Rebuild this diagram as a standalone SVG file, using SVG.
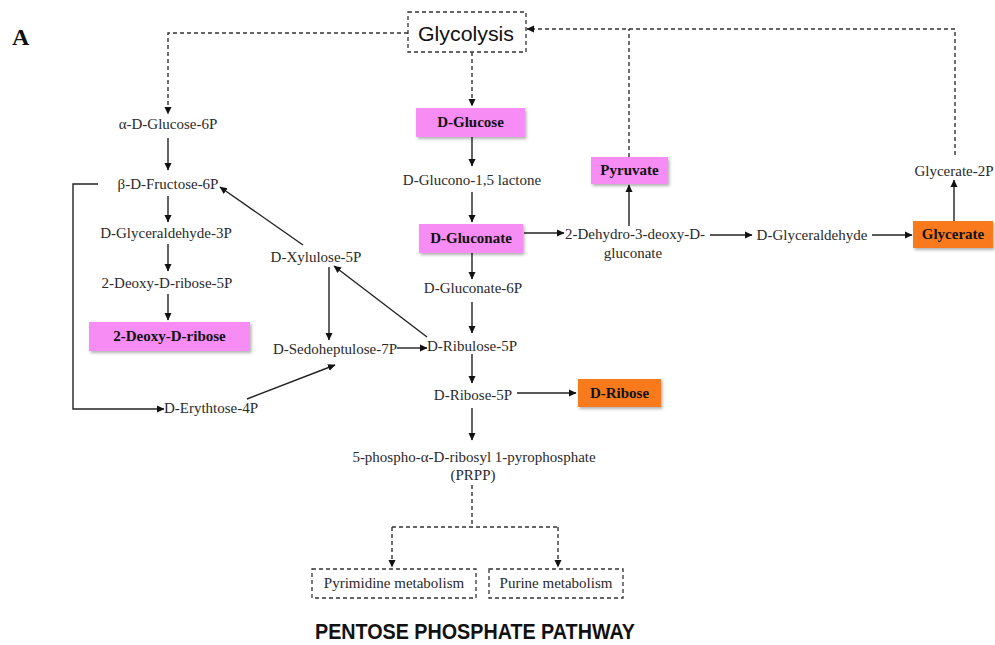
<svg xmlns="http://www.w3.org/2000/svg" width="995" height="645" viewBox="0 0 995 645">
<defs>
<style>
.t{font-family:"Liberation Serif","Times New Roman",serif;font-size:15px;fill:#2a2a2a;text-anchor:middle}
.b{font-family:"Liberation Serif","Times New Roman",serif;font-size:15px;font-weight:bold;fill:#111;text-anchor:middle}
.ln{fill:none;stroke:#222;stroke-width:1.4}
.ds{fill:none;stroke:#333;stroke-width:1.4;stroke-dasharray:4 3}
.pink{fill:#f78cf4}
.orng{fill:#f97a1f}
.dbox{fill:#fff;stroke:#333;stroke-width:1.3;stroke-dasharray:4 3}
</style>
<marker id="ah" markerWidth="8" markerHeight="8" refX="7" refY="4" orient="auto" markerUnits="userSpaceOnUse">
<path d="M0,0.5 L7.5,4 L0,7.5 Z" fill="#111"/>
</marker>
<filter id="sh" x="-10%" y="-20%" width="125%" height="150%">
<feDropShadow dx="1.5" dy="2" stdDeviation="1.5" flood-color="#000" flood-opacity="0.3"/>
</filter>
</defs>
<rect width="995" height="645" fill="#fff"/>
<text x="12" y="45" style="font-family:'Liberation Serif',serif;font-size:24px;font-weight:bold;fill:#111">A</text>

<g id="connectors">
<path class="ds" d="M408,33 H168 V114" marker-end="url(#ah)"/>
<path class="ds" d="M472,52 V106" marker-end="url(#ah)"/>
<path class="ds" d="M955,155 V29 H527" marker-end="url(#ah)"/>
<path class="ds" d="M629,157 V29"/>
<path class="ln" d="M472,137 V166" marker-end="url(#ah)"/>
<path class="ln" d="M472,192 V222" marker-end="url(#ah)"/>
<path class="ln" d="M524,233 H564" marker-end="url(#ah)"/>
<path class="ln" d="M629,226 V185" marker-end="url(#ah)"/>
<path class="ln" d="M710,235 H752" marker-end="url(#ah)"/>
<path class="ln" d="M872,235 H912" marker-end="url(#ah)"/>
<path class="ln" d="M954,221 V180" marker-end="url(#ah)"/>
<path class="ln" d="M168,138 V170" marker-end="url(#ah)"/>
<path class="ln" d="M168,196 V222" marker-end="url(#ah)"/>
<path class="ln" d="M168,244 V271" marker-end="url(#ah)"/>
<path class="ln" d="M168,294 V320" marker-end="url(#ah)"/>
<path class="ln" d="M98,184 H73 V409 H164" marker-end="url(#ah)"/>
<path class="ln" d="M303,245 L220,187" marker-end="url(#ah)"/>
<path class="ln" d="M329,267 V340" marker-end="url(#ah)"/>
<path class="ln" d="M397,348 H427" marker-end="url(#ah)"/>
<path class="ln" d="M427,337 L334,266" marker-end="url(#ah)"/>
<path class="ln" d="M247,399 L335,365" marker-end="url(#ah)"/>
<path class="ln" d="M472,253 V279" marker-end="url(#ah)"/>
<path class="ln" d="M472,302 V333" marker-end="url(#ah)"/>
<path class="ln" d="M472,354 V383" marker-end="url(#ah)"/>
<path class="ln" d="M517,393 H576" marker-end="url(#ah)"/>
<path class="ln" d="M472,408 V440" marker-end="url(#ah)"/>
<path class="ds" d="M472,485 V527 M392,527 H558"/>
<path class="ds" d="M392,527 V567" marker-end="url(#ah)"/>
<path class="ds" d="M558,527 V567" marker-end="url(#ah)"/>
</g>

<g id="glycolysis">
<rect class="dbox" x="408" y="12" width="118" height="40"/>
<text x="466" y="41" style="font-family:'Liberation Sans',Arial,sans-serif;font-size:21px;fill:#111;text-anchor:middle" textLength="96" lengthAdjust="spacingAndGlyphs">Glycolysis</text>
</g>
<g id="d-glucose"><rect class="pink" filter="url(#sh)" x="416" y="108" width="109" height="29"/><text class="b" x="470.5" y="127">D-Glucose</text></g>
<g id="d-glucono-lactone"><text class="t" x="472" y="185">D-Glucono-1,5 lactone</text></g>
<g id="d-gluconate"><rect class="pink" filter="url(#sh)" x="419" y="224" width="104" height="29"/><text class="b" x="471" y="243">D-Gluconate</text></g>
<g id="pyruvate"><rect class="pink" filter="url(#sh)" x="591" y="157" width="77" height="27"/><text class="b" x="629.5" y="175">Pyruvate</text></g>
<g id="dehydro-deoxy-gluconate"><text class="t" x="635" y="239">2-Dehydro-3-deoxy-D-</text><text class="t" x="633" y="258">gluconate</text></g>
<g id="d-glyceraldehyde"><text class="t" x="812" y="240">D-Glyceraldehyde</text></g>
<g id="glycerate"><rect class="orng" filter="url(#sh)" x="913" y="221" width="80" height="27"/><text class="b" x="953" y="239">Glycerate</text></g>
<g id="glycerate-2p"><text class="t" x="954" y="176">Glycerate-2P</text></g>
<g id="a-d-glucose-6p"><text class="t" x="168" y="129">α-D-Glucose-6P</text></g>
<g id="b-d-fructose-6p"><text class="t" x="168" y="189">β-D-Fructose-6P</text></g>
<g id="d-glyceraldehyde-3p"><text class="t" x="166" y="238">D-Glyceraldehyde-3P</text></g>
<g id="deoxy-ribose-5p"><text class="t" x="167" y="288">2-Deoxy-D-ribose-5P</text></g>
<g id="deoxy-ribose"><rect class="pink" filter="url(#sh)" x="89" y="322" width="161" height="29"/><text class="b" x="169.5" y="341">2-Deoxy-D-ribose</text></g>
<g id="d-erythrose-4p"><text class="t" x="211" y="413">D-Erythtose-4P</text></g>
<g id="d-xylulose-5p"><text class="t" x="316" y="262">D-Xylulose-5P</text></g>
<g id="d-sedoheptulose-7p"><text class="t" x="335" y="354">D-Sedoheptulose-7P</text></g>
<g id="d-ribulose-5p"><text class="t" x="472" y="351">D-Ribulose-5P</text></g>
<g id="d-gluconate-6p"><text class="t" x="473" y="293">D-Gluconate-6P</text></g>
<g id="d-ribose-5p"><text class="t" x="473" y="400">D-Ribose-5P</text></g>
<g id="d-ribose"><rect class="orng" filter="url(#sh)" x="578" y="379" width="83" height="28"/><text class="b" x="619.5" y="398">D-Ribose</text></g>
<g id="prpp"><text class="t" x="474" y="462">5-phospho-α-D-ribosyl 1-pyrophosphate</text><text class="t" x="473" y="480">(PRPP)</text></g>
<g id="pyrimidine"><rect class="dbox" x="312" y="569" width="164" height="29"/><text class="t" x="394" y="588">Pyrimidine metabolism</text></g>
<g id="purine"><rect class="dbox" x="489" y="569" width="134" height="29"/><text class="t" x="556" y="588">Purine metabolism</text></g>
<text x="475" y="639" style="font-family:'Liberation Sans',Arial,sans-serif;font-size:22px;font-weight:bold;fill:#111;text-anchor:middle" textLength="320" lengthAdjust="spacingAndGlyphs">PENTOSE PHOSPHATE PATHWAY</text>
</svg>
